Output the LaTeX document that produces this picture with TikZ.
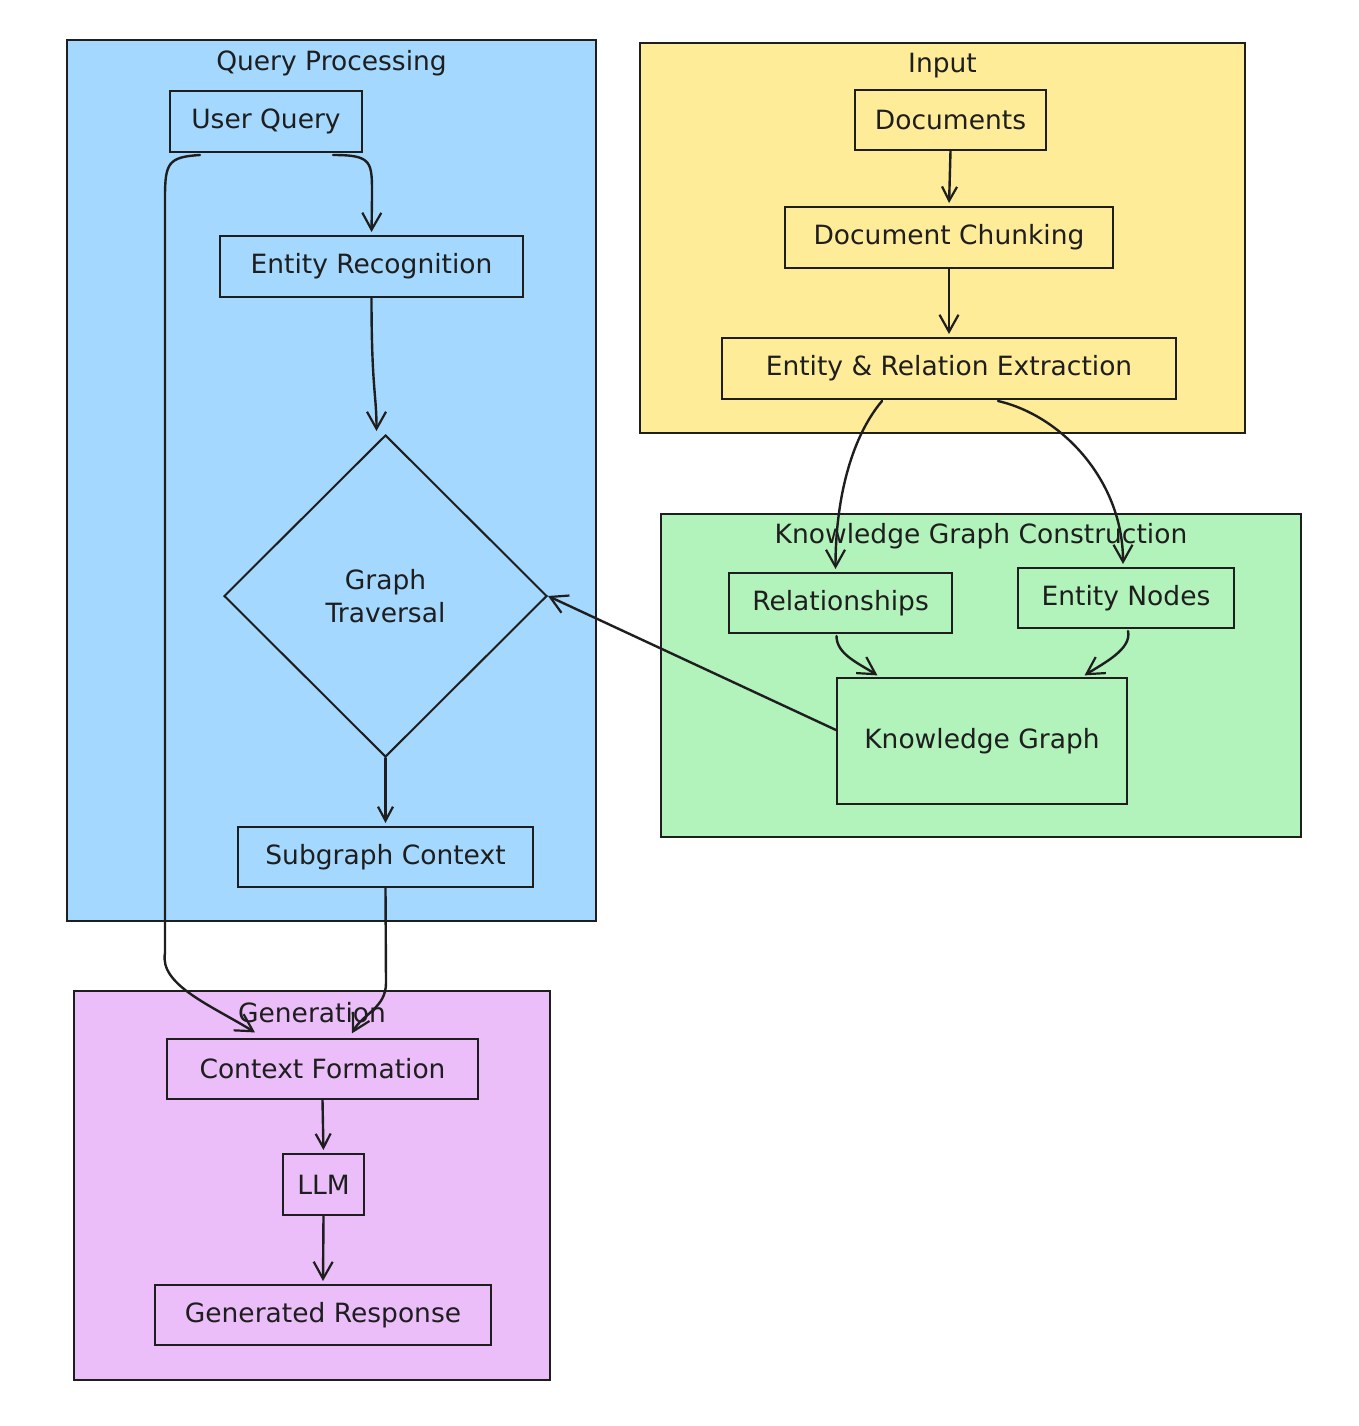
\documentclass[tikz,border=0pt]{standalone}
\usepackage{fontspec}
\setmainfont{DejaVu Sans}
\usetikzlibrary{shapes.geometric,arrows.meta,calc}
\definecolor{ink}{HTML}{1E1E1E}
\definecolor{qblue}{HTML}{A5D8FF}
\definecolor{iyellow}{HTML}{FFEC99}
\definecolor{kgreen}{HTML}{B2F2BB}
\definecolor{gpurple}{HTML}{EBBEFA}
\begin{document}
\begin{tikzpicture}[x=1pt,y=-1pt,
  frame/.style={draw=ink, line width=2.2pt, inner sep=0pt},
  lbl/.style={text=ink, font=\fontsize{26.5}{33}\selectfont},
  box/.style={draw=ink, line width=2pt, inner sep=0pt, lbl},
  arr/.style={draw=ink, line width=2.4pt, line cap=round,
    -{Straight Barb[length=17pt,width=19pt,line width=2.2pt]}, shorten >=3pt},
  sarr/.style={arr, -{Straight Barb[length=14pt,width=15pt,line width=2.2pt]}}
]
\fill[white] (0,0) rectangle (1358,1426);
\useasboundingbox (0,0) rectangle (1358,1426);

% frames
\node[frame, fill=qblue, minimum width=529pt, minimum height=881pt] (fq) at (331.5,480.5) {};
\node[frame, fill=iyellow, minimum width=605pt, minimum height=390pt] (fi) at (942.5,238) {};
\node[frame, fill=kgreen, minimum width=640pt, minimum height=323pt] (fk) at (981,675.5) {};
\node[frame, fill=gpurple, minimum width=476pt, minimum height=389pt] (fg) at (312,1185.5) {};

\node[lbl] (tq) at ($(fq.north)+(0,24)$) {Query Processing};
\node[lbl] (ti) at ($(fi.north)+(0,24)$) {Input};
\node[lbl] (tk) at ($(fk.north)+(0,23)$) {Knowledge Graph Construction};
\node[lbl] (tg) at ($(fg.north)+(0,23)$) {Generation};

% query processing
\node[box, minimum width=192pt, minimum height=61pt] (uq) at (266,121.5) {User Query};
\node[box, minimum width=303pt, minimum height=61pt] (er) at (371.5,266.5) {Entity Recognition};
\node[draw=ink, line width=2pt, diamond, inner sep=0pt, minimum width=323pt, minimum height=322pt, lbl, align=center] (gt) at (385.5,596) {Graph\\Traversal};
\node[box, minimum width=295pt, minimum height=60pt] (sc) at (385.5,857) {Subgraph Context};

% input
\node[box, minimum width=191pt, minimum height=60pt] (docs) at (950.5,120) {Documents};
\node[box, minimum width=328pt, minimum height=61pt] (chunk) at (949,237.5) {Document Chunking};
\node[box, minimum width=454pt, minimum height=61pt] (ext) at (949,368.5) {Entity \& Relation Extraction};

% knowledge graph construction
\node[box, minimum width=223pt, minimum height=60pt] (rel) at (840.5,603) {Relationships};
\node[box, minimum width=216pt, minimum height=60pt] (en) at (1126,598) {Entity Nodes};
\node[box, minimum width=290pt, minimum height=126pt] (kg) at (982,741) {Knowledge Graph};

% generation
\node[box, minimum width=311pt, minimum height=60pt] (cf) at (322.5,1069) {Context Formation};
\node[box, minimum width=81pt, minimum height=61pt] (llm) at (323.5,1184.5) {LLM};
\node[box, minimum width=336pt, minimum height=60pt] (gr) at (323,1315) {Generated Response};

% connectors
\draw[sarr] (docs.south) -- (chunk.north);
\draw[arr] (chunk.south) -- (ext.north);
\draw[arr] ($(ext.south)+(-67,1)$) .. controls +(-32,38) and +(0,-70) .. ($(rel.north)+(-5,0)$);
\draw[arr] ($(ext.south)+(49,1)$) .. controls +(65,15) and +(0,-85) .. ($(en.north)+(-3,0)$);
\draw[arr] ($(rel.south)+(-4,2)$) .. controls +(0,18) and +(-22,-14) .. ($(kg.north)+(-102,0)$);
\draw[arr] ($(en.south)+(2,2)$) .. controls +(4,18) and +(22,-14) .. ($(kg.north)+(100,0)$);
\draw[arr, shorten >=0pt] ($(kg.west)+(0,-11)$) -- (gt.east);

\draw[arr] ($(uq.south)+(67,2)$) .. controls +(40,0) and +(0,-35) .. ($(er.north)+(0.5,-38)$) -- (er.north);
\draw[arr] (er.south) .. controls +(0,90) and +(0,-40) .. ($(gt.north)+(-9,0)$);
\draw[sarr] (gt.south) -- (sc.north);
\draw[arr] (sc.south) -- ($(sc.south)+(0.5,95)$) .. controls +(0,25) and +(12,-22) .. ($(cf.north)+(28,-2)$);
\draw[arr] ($(uq.south)+(-66,2)$) .. controls +(-32,2) and +(0,-35) .. ($(uq.south)+(-101,45)$) -- ($(uq.south)+(-101,800)$) .. controls +(-6,32) and +(-45,-28) .. ($(cf.north)+(-65,-4)$);
\draw[sarr] (cf.south) -- (llm.north);
\draw[arr] (llm.south) -- (gr.north);
\end{tikzpicture}
\end{document}
